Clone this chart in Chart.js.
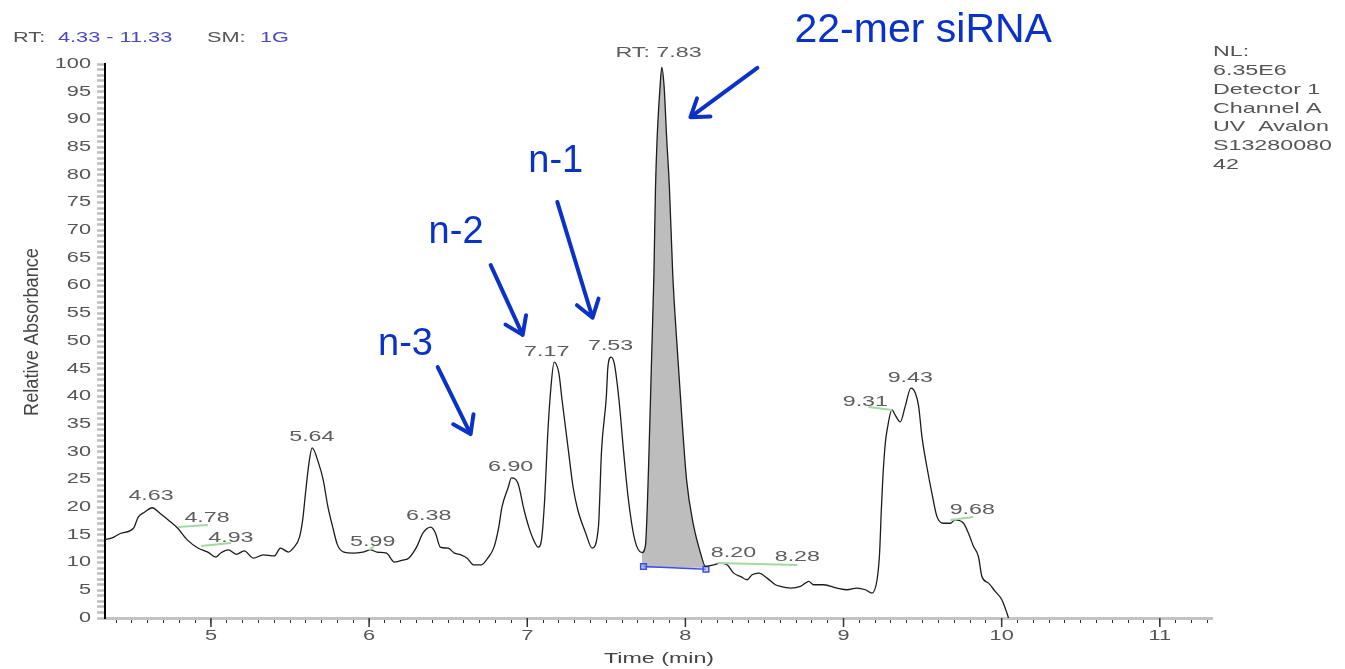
<!DOCTYPE html>
<html>
<head>
<meta charset="utf-8">
<script src="https://cdn.jsdelivr.net/npm/chart.js@4.4.1/dist/chart.umd.min.js"></script>
<style>
  html, body { margin: 0; padding: 0; background: #fff; }
  canvas { display: block; }
</style>
</head>
<body>
<canvas id="chrom" width="1345" height="669" style="width:1345px;height:669px"></canvas>
<script>
// retention time (min) and relative absorbance (%)
const times = [4.33,4.37,4.43,4.51,4.54,4.58,4.63,4.67,4.73,4.79,
  4.85,4.92,4.98,5.03,5.06,5.11,5.16,5.21,5.27,5.33,
  5.40,5.44,5.49,5.52,5.56,5.58,5.60,5.62,5.64,5.68,
  5.71,5.74,5.77,5.80,5.84,5.90,5.96,6.01,6.05,6.11,
  6.16,6.22,6.25,6.30,6.34,6.39,6.42,6.45,6.50,6.54,
  6.58,6.62,6.66,6.71,6.75,6.79,6.82,6.84,6.88,6.90,
  6.94,6.98,7.01,7.04,7.07,7.09,7.11,7.13,7.15,7.17,
  7.20,7.22,7.26,7.29,7.32,7.37,7.41,7.45,7.47,7.50,
  7.51,7.53,7.55,7.58,7.61,7.64,7.68,7.725,7.747,7.768,
  7.786,7.801,7.811,7.822,7.838,7.851,7.866,7.881,7.899,7.920,
  7.946,7.975,8.008,8.051,8.095,8.127,8.179,8.222,8.264,8.306,
  8.348,8.390,8.422,8.464,8.517,8.569,8.601,8.664,8.727,8.759,
  8.780,8.811,8.874,8.959,9.022,9.085,9.138,9.180,9.212,9.228,
  9.239,9.249,9.264,9.279,9.306,9.327,9.359,9.390,9.426,9.454,
  9.475,9.496,9.527,9.559,9.591,9.632,9.675,9.706,9.759,9.790,
  9.822,9.853,9.875,9.917,9.959,10.001,10.033,10.043];
const absorbance = [14.2,14.4,15.3,16.2,18.2,19.1,19.9,19.1,17.7,16.2,
  14.1,12.6,11.9,11.0,11.7,12.3,11.5,12.1,10.8,11.4,
  11.2,12.6,11.9,12.6,14.6,17.7,23.1,28.0,30.7,28.0,
  24.9,20.0,16.4,13.2,11.9,11.7,11.9,12.3,11.9,11.7,
  10.1,10.5,10.8,12.8,15.3,16.4,15.3,12.8,12.6,11.7,
  11.4,10.8,9.6,9.6,10.8,12.8,16.4,20.0,23.6,25.3,
  24.4,19.5,16.4,14.1,12.8,14.1,21.3,33.4,41.7,46.2,
  44.2,39.4,30.3,23.6,19.5,15.3,12.6,16.4,30.3,39.9,
  45.3,47.1,46.0,39.4,29.8,21.3,14.1,11.8,13.0,28.0,
  46.6,62.1,77.7,87.0,95.1,99.4,95.7,87.0,77.7,62.1,
  49.7,37.3,24.8,16.8,11.8,9.3,9.6,9.9,9.6,8.1,
  7.5,6.9,7.8,8.1,7.2,6.0,5.7,5.4,5.7,6.3,
  6.6,6.0,6.0,5.4,5.1,5.4,5.1,4.5,6.9,11.7,
  19.5,25.5,31.5,34.5,37.6,36.6,35.4,38.2,41.5,40.6,
  38.2,32.7,27.3,22.5,18.3,17.1,17.1,17.7,17.1,15.3,
  12.9,11.1,7.5,6.3,4.8,3.3,0.9,0];

// integrated main peak (7.83 min) and its baseline
const areaStart = 7.72;
const areaEnd = 8.13;
const baselineTimes = [7.735, 8.13];
const baselineLevels = [9.3, 8.8];

// peak labels: text, where the label sits (min, %)
const peakLabels = ['4.63','4.78','4.93','5.64','5.99','6.38','6.90','7.17','7.53','RT: 7.83','8.20','8.28','9.31','9.43','9.68'];
const peakLabelTimes = [4.621,4.975,5.126,5.638,6.023,6.377,6.895,7.123,7.527,7.830,8.304,8.708,9.138,9.422,9.814];
const peakLabelLevels = [22.0,18.05,14.44,32.67,13.72,18.41,27.26,48.0,49.1,102.0,11.73,11.01,38.99,43.32,19.49];

// little green integration marks next to some labels [t0, y0, t1, y1]
const greenMarks = [
  [4.792,16.43,4.981,16.79],
  [4.937,13.0,5.126,13.54],
  [5.998,12.27,6.030,12.82],
  [8.203,9.93,8.708,9.57],
  [9.157,38.09,9.308,37.55],
  [9.675,17.69,9.820,18.23]
];

// blue call-outs
const calloutTexts = ['22-mer siRNA','n-1','n-2','n-3'];
const calloutTimes = [9.504,7.18,6.55,6.23];
const calloutLevels = [104.0,80.5,67.7,47.5];
const arrows = [
  [8.455,99.3,8.032,90.4],
  [7.19,75.1,7.413,54.2],
  [6.769,63.7,6.971,51.1],
  [6.434,45.3,6.642,33.2]
];

const yTickValues = [];
for (let v = 0; v <= 100; v++) yTickValues.push(v);
const xTickValues = [];
for (let i = 44; i <= 113; i++) xTickValues.push(i / 10);

const trace = times.map((t, i) => ({ x: t, y: absorbance[i] }));
const areaPoints = trace.filter(p => p.x >= areaStart && p.x <= areaEnd);
const baseline = baselineTimes.map((t, i) => ({ x: t, y: baselineLevels[i] }));

const SX = 1.55; // the instrument print-out is stretched sideways
const BLUE = '#0a32c8';

function stretchedText(ctx, text, x, y, font, color, align, sx) {
  ctx.save();
  ctx.translate(x, y);
  ctx.scale(sx, 1);
  ctx.font = font;
  ctx.fillStyle = color;
  ctx.textAlign = align;
  ctx.textBaseline = 'middle';
  ctx.fillText(text, 0, 0);
  ctx.restore();
}

const decorations = {
  id: 'decorations',
  afterDraw(chart) {
    const ctx = chart.ctx;
    const xs = chart.scales.x;
    const ys = chart.scales.y;
    const px = v => xs.getPixelForValue(v);
    const py = v => ys.getPixelForValue(v);
    const small = '14px "Liberation Sans", Arial, sans-serif';
    const mid = '15px "Liberation Sans", Arial, sans-serif';

    // tick labels
    ys.ticks.forEach(t => {
      if (t.value % 5 === 0) stretchedText(ctx, String(t.value), 91, py(t.value), small, '#555', 'right', SX);
    });
    xs.ticks.forEach(t => {
      const v = Math.round(t.value * 10) / 10;
      if (Number.isInteger(v)) stretchedText(ctx, String(v), px(v), 636, small, '#555', 'center', SX);
    });

    // longer ticks at whole minutes
    ctx.save();
    ctx.strokeStyle = '#333';
    ctx.lineWidth = 1.5;
    xs.ticks.forEach(t => {
      const v = Math.round(t.value * 10) / 10;
      if (Number.isInteger(v)) {
        ctx.beginPath();
        ctx.moveTo(px(v), chart.chartArea.bottom);
        ctx.lineTo(px(v), chart.chartArea.bottom + 9);
        ctx.stroke();
      }
    });
    ctx.restore();

    // green marks
    ctx.save();
    ctx.strokeStyle = '#a3d9a3';
    ctx.lineWidth = 2;
    greenMarks.forEach(m => {
      ctx.beginPath();
      ctx.moveTo(px(m[0]), py(m[1]));
      ctx.lineTo(px(m[2]), py(m[3]));
      ctx.stroke();
    });
    ctx.restore();

    // peak labels
    peakLabels.forEach((txt, i) => {
      stretchedText(ctx, txt, px(peakLabelTimes[i]), py(peakLabelLevels[i]), mid, '#5e5e5e', 'center', SX);
    });

    // header
    stretchedText(ctx, 'RT:', 13, 38, small, '#555', 'left', SX);
    stretchedText(ctx, '4.33 - 11.33', 58, 38, small, '#4a4ac4', 'left', SX);
    stretchedText(ctx, 'SM:', 207, 38, small, '#555', 'left', SX);
    stretchedText(ctx, '1G', 260, 38, small, '#4a4ac4', 'left', SX);

    // instrument info
    ['NL:', '6.35E6', 'Detector 1', 'Channel A', 'UV  Avalon', 'S13280080', '42'].forEach((line, i) => {
      stretchedText(ctx, line, 1213, 52 + i * 18.8, mid, '#555', 'left', SX);
    });

    // axis titles
    stretchedText(ctx, 'Time (min)', 659, 659, mid, '#444', 'center', SX);
    ctx.save();
    ctx.translate(33, 332);
    ctx.rotate(-Math.PI / 2);
    ctx.font = mid;
    const w = ctx.measureText('Relative Absorbance').width;
    ctx.scale(168 / w, 1.3);
    ctx.fillStyle = '#444';
    ctx.textAlign = 'center';
    ctx.textBaseline = 'middle';
    ctx.fillText('Relative Absorbance', 0, 0);
    ctx.restore();

    // call-outs
    calloutTexts.forEach((txt, i) => {
      ctx.save();
      ctx.font = (i === 0 ? '41px' : '38px') + ' "Liberation Sans", Arial, sans-serif';
      ctx.fillStyle = BLUE;
      ctx.textAlign = 'center';
      ctx.textBaseline = 'alphabetic';
      ctx.fillText(txt, px(calloutTimes[i]), py(calloutLevels[i]));
      ctx.restore();
    });
    ctx.save();
    ctx.strokeStyle = BLUE;
    ctx.lineWidth = 4;
    ctx.lineCap = 'round';
    ctx.lineJoin = 'round';
    arrows.forEach(a => {
      const x0 = px(a[0]), y0 = py(a[1]), x1 = px(a[2]), y1 = py(a[3]);
      const ang = Math.atan2(y1 - y0, x1 - x0);
      const head = 20, spread = 0.6;
      ctx.beginPath();
      ctx.moveTo(x0, y0);
      ctx.lineTo(x1, y1);
      ctx.moveTo(x1 - head * Math.cos(ang - spread), y1 - head * Math.sin(ang - spread));
      ctx.lineTo(x1, y1);
      ctx.lineTo(x1 - head * Math.cos(ang + spread), y1 - head * Math.sin(ang + spread));
      ctx.stroke();
    });
    ctx.restore();
  }
};

new Chart(document.getElementById('chrom'), {
  type: 'scatter',
  data: {
    datasets: [
      {
        label: 'UV trace',
        data: trace,
        showLine: true,
        borderColor: '#1c1c1c',
        borderWidth: 1.3,
        pointRadius: 0,
        cubicInterpolationMode: 'monotone',
        fill: false,
        order: 0
      },
      {
        label: 'baseline',
        data: baseline,
        showLine: true,
        borderColor: '#3a4ef0',
        borderWidth: 1.5,
        pointStyle: 'rect',
        pointRadius: 4,
        pointBorderWidth: 1.5,
        pointBorderColor: '#3a4ef0',
        pointBackgroundColor: 'rgba(160,170,255,0.5)',
        order: 1
      },
      {
        label: 'area',
        data: areaPoints,
        showLine: true,
        borderWidth: 0,
        pointRadius: 0,
        cubicInterpolationMode: 'monotone',
        backgroundColor: '#bdbdbd',
        fill: { value: 9.05 },
        order: 2
      }
    ]
  },
  options: {
    responsive: false,
    devicePixelRatio: 1,
    animation: false,
    layout: { padding: { left: 0, top: 64, right: 133, bottom: 0 } },
    plugins: {
      legend: { display: false },
      tooltip: { enabled: false },
      title: { display: false }
    },
    scales: {
      x: {
        type: 'linear',
        min: 4.33,
        max: 11.33,
        afterBuildTicks: scale => { scale.ticks = xTickValues.map(v => ({ value: v })); },
        afterFit: scale => { scale.height = 51; },
        ticks: { display: false },
        grid: {
          drawOnChartArea: false,
          drawTicks: true,
          tickLength: 5,
          tickColor: '#333',
          tickWidth: 1
        },
        border: { display: true, color: '#c4c4c4', width: 3 }
      },
      y: {
        type: 'linear',
        min: 0,
        max: 100,
        afterBuildTicks: scale => { scale.ticks = yTickValues.map(v => ({ value: v })); },
        afterFit: scale => { scale.width = 105; },
        ticks: { display: false },
        grid: {
          drawOnChartArea: false,
          drawTicks: true,
          tickLength: 8,
          tickColor: '#bdbdbd',
          tickWidth: 2.5
        },
        border: { display: true, color: '#000', width: 2 }
      }
    }
  },
  plugins: [decorations]
});
</script>
</body>
</html>
